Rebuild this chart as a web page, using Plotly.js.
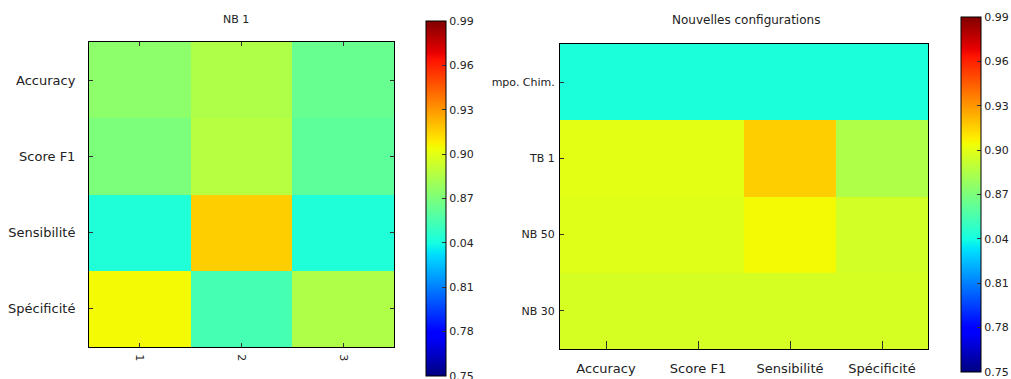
<!DOCTYPE html>
<html>
<head>
<meta charset="utf-8">
<script src="https://cdn.plot.ly/plotly-3.0.1.min.js"></script>
<style>
  html, body { margin: 0; padding: 0; background: #fff; }
  #chart { width: 1011px; height: 379px; }
</style>
</head>
<body>
<div id="chart"></div>
<script>
// Left panel: NB 1, three runs per metric
const nbMetrics = ["Accuracy", "Score F1", "Sensibilité", "Spécificité"];
const nbRuns = ["1", "2", "3"];
const nbScores = [
  [0.875, 0.885, 0.864],
  [0.870, 0.887, 0.861],
  [0.843, 0.916, 0.843],
  [0.905, 0.854, 0.885]
];

// Right panel: new configurations per metric
const configNames = ["mpo. Chim.", "TB 1", "NB 50", "NB 30"];
const configMetrics = ["Accuracy", "Score F1", "Sensibilité", "Spécificité"];
const configScores = [
  [0.842, 0.842, 0.842, 0.842],
  [0.900, 0.900, 0.916, 0.885],
  [0.899, 0.899, 0.905, 0.895],
  [0.896, 0.896, 0.896, 0.896]
];

// Colour bar ticks
const cbTickVals = [0.75, 0.78, 0.81, 0.84, 0.87, 0.90, 0.93, 0.96, 0.99];
const cbTickText = ["0.75", "0.78", "0.81", "0.04", "0.87", "0.90", "0.93", "0.96", "0.99"];
const zMin = 0.75, zMax = 0.99;

// matplotlib-style "jet" colormap
const jet = [
  [0.000, "rgb(0,0,128)"],
  [0.110, "rgb(0,0,255)"],
  [0.125, "rgb(0,0,255)"],
  [0.340, "rgb(0,219,255)"],
  [0.350, "rgb(0,230,247)"],
  [0.375, "rgb(21,255,226)"],
  [0.640, "rgb(239,255,8)"],
  [0.650, "rgb(247,246,0)"],
  [0.660, "rgb(255,236,0)"],
  [0.890, "rgb(255,19,0)"],
  [0.910, "rgb(232,0,0)"],
  [1.000, "rgb(128,0,0)"]
];

const W = 1011, H = 379;
const px = v => v / W;
const py = v => 1 - v / H;
const txt = "#222";
const fam = "DejaVu Sans, sans-serif";

function colorbar(xLeft, yTop, yBottom) {
  return {
    x: px(xLeft), xanchor: "left", xref: "paper",
    y: py((yTop + yBottom) / 2), yanchor: "middle", yref: "paper",
    len: yBottom - yTop, lenmode: "pixels",
    thickness: 20, thicknessmode: "pixels",
    xpad: 0, ypad: 0,
    outlinewidth: 1, outlinecolor: "#000",
    tickmode: "array", tickvals: cbTickVals, ticktext: cbTickText,
    ticks: "inside", ticklen: 4, tickcolor: "#333", tickwidth: 1,
    ticklabeloverflow: "allow",
    tickfont: { family: fam, size: 11, color: txt }
  };
}

const traces = [
  {
    type: "heatmap", x: nbRuns, y: nbMetrics, z: nbScores,
    xaxis: "x", yaxis: "y",
    colorscale: jet, zmin: zMin, zmax: zMax,
    colorbar: colorbar(426, 21, 376), hoverinfo: "skip"
  },
  {
    type: "heatmap", x: configMetrics, y: configNames, z: configScores,
    xaxis: "x2", yaxis: "y2",
    colorscale: jet, zmin: zMin, zmax: zMax,
    colorbar: colorbar(961, 17, 372), hoverinfo: "skip"
  }
];

const axisBase = {
  showgrid: false, zeroline: false,
  showline: true, linecolor: "#000", linewidth: 1, mirror: true,
  ticks: "inside", tickcolor: "#333", tickwidth: 1,
  fixedrange: true
};

const layout = {
  width: W, height: H,
  margin: { l: 0, r: 0, t: 0, b: 0, pad: 0, autoexpand: false },
  paper_bgcolor: "#fff", plot_bgcolor: "#fff",
  font: { family: fam, color: txt },
  showlegend: false,
  xaxis: Object.assign({}, axisBase, {
    domain: [px(89), px(394)], anchor: "y",
    mirror: "ticks", ticklen: 4, tickangle: 90,
    tickfont: { family: fam, size: 11, color: txt },
    ticklabelstandoff: 4, automargin: false
  }),
  yaxis: Object.assign({}, axisBase, {
    domain: [py(347), py(42)], anchor: "x",
    autorange: "reversed",
    mirror: "ticks", ticklen: 4,
    tickfont: { family: fam, size: 13, color: txt },
    ticklabelstandoff: 10, automargin: false
  }),
  xaxis2: Object.assign({}, axisBase, {
    domain: [px(560), px(928)], anchor: "y2",
    ticklen: 8,
    tickfont: { family: fam, size: 13, color: txt },
    ticklabelstandoff: 7, automargin: false
  }),
  yaxis2: Object.assign({}, axisBase, {
    domain: [py(349), py(44)], anchor: "x2",
    autorange: "reversed", ticklen: 4,
    tickfont: { family: fam, size: 11, color: txt },
    ticklabelstandoff: 2, automargin: false
  }),
  annotations: [
    {
      text: "NB 1", xref: "paper", yref: "paper",
      x: px(236), y: py(19), xanchor: "center", yanchor: "middle",
      showarrow: false, font: { family: fam, size: 11, color: txt }
    },
    {
      text: "Nouvelles configurations", xref: "paper", yref: "paper",
      x: px(746), y: py(20), xanchor: "center", yanchor: "middle",
      showarrow: false, font: { family: fam, size: 12, color: txt }
    }
  ]
};

Plotly.newPlot("chart", traces, layout, { staticPlot: true, displayModeBar: false });
</script>
</body>
</html>
